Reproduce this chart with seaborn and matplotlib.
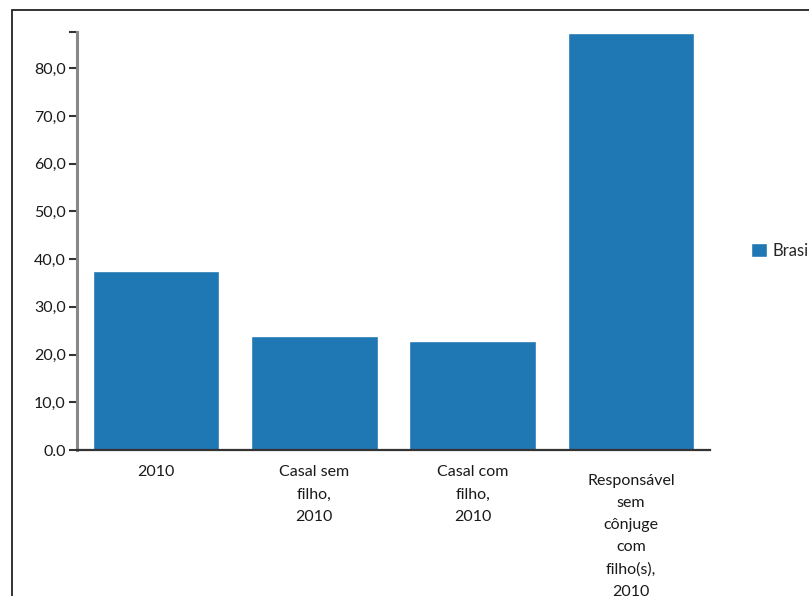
import matplotlib
matplotlib.use("Agg")
import matplotlib.pyplot as plt
from matplotlib.patches import Rectangle
import seaborn as sns
import pandas as pd

# dados
categorias = ["2010", "Casal sem\nfilho,\n2010", "Casal com\nfilho,\n2010",
              "Responsável\nsem\ncônjuge\ncom\nfilho(s),\n2010"]
valores = [37.5, 23.8, 22.9, 87.4]
serie = "Brasil"
yticks = [0, 10, 20, 30, 40, 50, 60, 70, 80]
ytick_labels = ["0.0", "10,0", "20,0", "30,0", "40,0", "50,0", "60,0", "70,0", "80,0"]
ymax = 87.6

df = pd.DataFrame({"categoria": categorias, "valor": valores})

sns.set_style("white")
plt.rcParams["font.family"] = ["Lato", "DejaVu Sans"]

W, H = 809, 596
fig = plt.figure(figsize=(W / 100, H / 100), dpi=100)
ax = fig.add_axes([77 / W, (H - 450) / H, (710 - 77) / W, (450 - 32) / H])

sns.barplot(data=df, x="categoria", y="valor", color="#1f77b4", width=0.8,
            saturation=1, label=serie, ax=ax)

# moldura externa
fig.patches.append(Rectangle((12 / W, -0.1), 1.2, (H - 10) / H + 0.1,
                             transform=fig.transFigure, fill=False,
                             edgecolor="#222222", linewidth=1.3))

ax.set_ylim(0, ymax)
ax.set_xlim(-0.5, len(categorias) - 0.5)
ax.set_yticks(yticks + [ymax])
ax.set_yticklabels(ytick_labels + [""], fontsize=11.5, color="#1a1a1a")
ax.set_xticks(range(len(categorias)))
ax.set_xticklabels(categorias, fontsize=11.5, color="#1a1a1a",
                   linespacing=1.75, va="top")
ax.set_xticks([i - 0.5 for i in range(len(categorias) + 1)], minor=True)
ax.tick_params(axis="x", which="major", length=0, pad=11)
ax.tick_params(axis="x", which="minor", length=4, width=2, color="#888888", direction="out")
ax.tick_params(axis="y", length=6, width=1.5, color="#333333", pad=2, left=True)
# o último rótulo começa um pouco mais abaixo
ax.xaxis.get_major_ticks()[-1].set_pad(17)
ax.set_xlabel("")
ax.set_ylabel("")

for s in ["top", "right"]:
    ax.spines[s].set_visible(False)
ax.spines["left"].set_color("#888888")
ax.spines["left"].set_linewidth(2.2)
ax.spines["bottom"].set_color("#333333")
ax.spines["bottom"].set_linewidth(1.6)

leg = ax.legend(loc="center left", bbox_to_anchor=(736 / W, (H - 251) / H),
                bbox_transform=fig.transFigure, frameon=False,
                handlelength=0.95, handleheight=0.95, handletextpad=0.35,
                prop={"family": ["Lato", "DejaVu Sans"], "size": 12})

fig.savefig("out.png", dpi=100)
